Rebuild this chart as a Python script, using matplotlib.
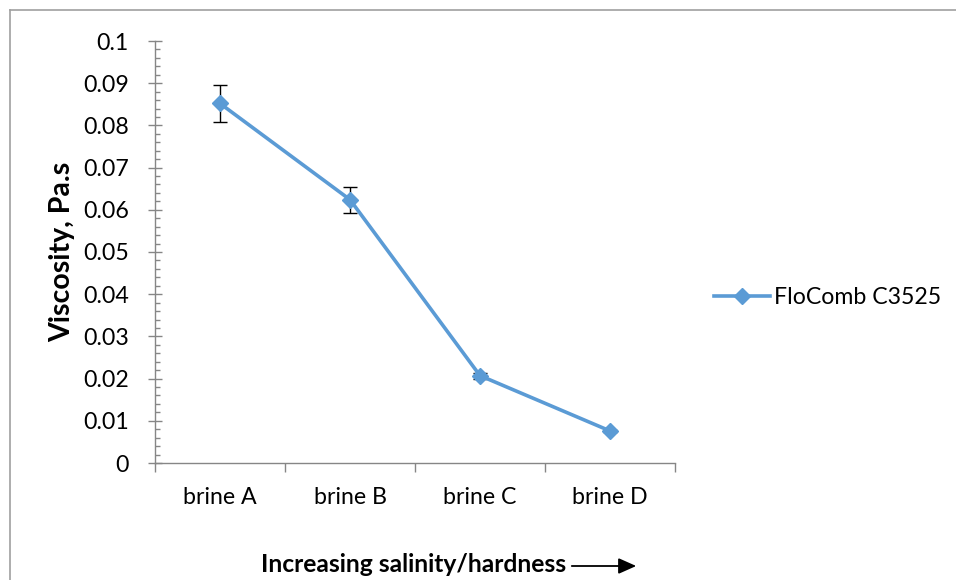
import matplotlib
matplotlib.use("Agg")
import matplotlib.pyplot as plt
from matplotlib.lines import Line2D
from matplotlib.ticker import MultipleLocator

categories = ["brine A", "brine B", "brine C", "brine D"]
viscosity = [0.0852, 0.0624, 0.0207, 0.0076]
errors = [0.0043, 0.0031, 0.0007, 0.0003]
series_name = "FloComb C3525"
yticks = [0, 0.01, 0.02, 0.03, 0.04, 0.05, 0.06, 0.07, 0.08, 0.09, 0.1]
ytick_labels = ["0", "0.01", "0.02", "0.03", "0.04", "0.05", "0.06", "0.07", "0.08", "0.09", "0.1"]

plt.rcParams['font.family'] = ['Lato', 'DejaVu Sans']
FS = 16.7

W, H = 956, 580
fig = plt.figure(figsize=(W/100, H/100), dpi=100)
ax = fig.add_axes([155/W, 1-463/H, (675-155)/W, (463-41)/H])

color = "#5B9BD5"
gray = "#868686"
x = list(range(len(categories)))
ax.errorbar(x, viscosity, yerr=errors, fmt='none', ecolor='black', elinewidth=1.0,
            capsize=5, capthick=1.0, zorder=2)
ax.plot(x, viscosity, color=color, lw=2.6, marker='D', markersize=8,
        markerfacecolor=color, markeredgecolor=color, zorder=3)

ax.set_xlim(-0.5, 3.5)
ax.set_ylim(0, 0.1)
ax.set_yticks(yticks)
ax.set_yticklabels(ytick_labels, fontsize=FS)
ax.yaxis.set_minor_locator(MultipleLocator(0.002))
ax.set_xticks(x)
ax.set_xticklabels(categories, fontsize=FS)
ax.set_xticks([-0.5, 0.5, 1.5, 2.5, 3.5], minor=True)
ax.tick_params(axis='x', which='major', length=0, pad=17)
ax.tick_params(axis='x', which='minor', length=6.5, color=gray, direction='out', width=1)
ax.tick_params(axis='y', which='major', length=9.5, color=gray, direction='inout', pad=14, width=1)
ax.tick_params(axis='y', which='minor', length=3.6, color=gray, direction='in', width=1)
for s in ['top', 'right']:
    ax.spines[s].set_visible(False)
for s in ['left', 'bottom']:
    ax.spines[s].set_color(gray)
    ax.spines[s].set_linewidth(1.0)

fig.text(62/W, 1-252/H, "Viscosity, Pa.s", rotation=90, ha='center', va='center',
         fontsize=20.5, fontweight='bold')
fig.text(413.5/W, 1-565/H, "Increasing salinity/hardness", ha='center', va='center',
         fontsize=17.7, fontweight='bold')
fig.add_artist(matplotlib.patches.FancyArrowPatch((569/W, 1-566/H), (639/W, 1-566/H),
               transform=fig.transFigure, arrowstyle='-|>,head_length=0.9,head_width=0.4',
               color='black', lw=1.3, mutation_scale=12))

handle = Line2D([], [], color=color, lw=2.6, marker='D', markersize=8,
                markerfacecolor=color, markeredgecolor=color)
fig.legend([handle], [series_name], loc='center left', bbox_to_anchor=(714/W, 1-298/H),
           frameon=False, fontsize=FS, handlelength=2.4, handletextpad=0.2,
           borderaxespad=0, borderpad=0)

# chart border
fig.add_artist(Line2D([10/W, 10/W], [0, 1-10/H], transform=fig.transFigure, color='#a0a0a0', lw=1.2))
fig.add_artist(Line2D([10/W, 1], [1-10/H, 1-10/H], transform=fig.transFigure, color='#a0a0a0', lw=1.2))

fig.savefig("out.png", dpi=100)
